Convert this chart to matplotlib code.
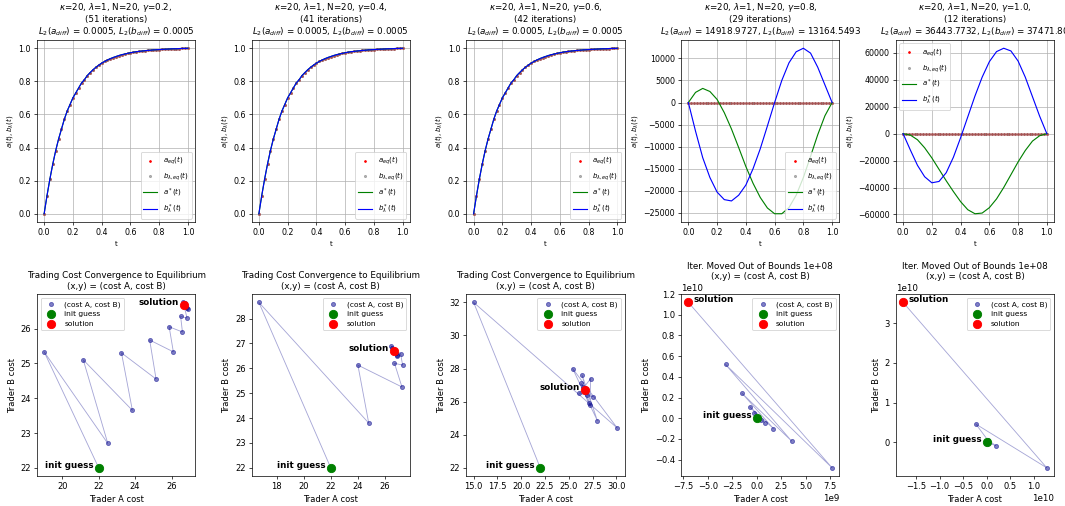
import numpy as np
import matplotlib.pyplot as plt
from matplotlib.ticker import MultipleLocator

# -----------------------------
# top row: a(t), b(t) curves
# -----------------------------
gammas = [0.2, 0.4, 0.6, 0.8, 1.0]
n_iters = [51, 41, 42, 29, 12]
l2_a = ["0.0005", "0.0005", "0.0005", "14918.9727", "36443.7732"]
l2_b = ["0.0005", "0.0005", "0.0005", "13164.5493", "37471.80"]

# equilibrium points (same for every gamma)
t_eq = np.linspace(0, 1, 51)
eq_vals = [0.0, 0.11, 0.21, 0.30, 0.38, 0.45, 0.51, 0.57, 0.62, 0.66,
           0.70, 0.73, 0.76, 0.79, 0.81, 0.835, 0.853, 0.87, 0.885, 0.898,
           0.91, 0.92, 0.929, 0.937, 0.944, 0.95, 0.956, 0.961, 0.965, 0.969,
           0.973, 0.976, 0.979, 0.981, 0.983, 0.985, 0.987, 0.988, 0.99, 0.991,
           0.992, 0.993, 0.994, 0.995, 0.996, 0.997, 0.997, 0.998, 0.999, 0.999, 1.0]

# diverged solutions (gamma 0.8, 1.0)
t_line = np.linspace(0, 1, 21)
a_star_08 = [0, 2300, 3200, 2500, 700, -2300, -6000, -10200, -14500, -18300, -21500,
             -23900, -25200, -25200, -23800, -21000, -17000, -12200, -7300, -3000, 0]
b_star_08 = [0, -6500, -12500, -17000, -20300, -22000, -22300, -21000, -18700, -15000,
             -10500, -5300, 0, 5000, 9000, 11500, 12300, 11200, 8000, 4000, 0]
a_star_10 = [0, -1000, -4500, -10500, -18000, -26500, -35000, -43000, -50500, -56500,
             -59500, -59000, -55000, -48500, -40000, -30500, -21000, -12500, -5500, -1500, 0]
b_star_10 = [0, -12000, -23500, -32000, -36500, -35500, -29000, -17500, -3000, 12500,
             28000, 42000, 53500, 61000, 63500, 61500, 54000, 42000, 27500, 13000, 0]

# -----------------------------
# bottom row: cost iterations
# -----------------------------
cost_a_02 = [22.0, 19.0, 22.5, 21.15, 23.85, 23.25, 25.15, 24.8, 26.1, 25.87, 26.6,
             26.5, 26.85, 26.65, 26.9, 26.75, 26.85, 26.7, 26.8, 26.72, 26.75, 26.7]
cost_b_02 = [22.0, 25.33, 22.7, 25.1, 23.65, 25.3, 24.55, 25.67, 25.33, 26.05, 25.9,
             26.35, 26.3, 26.75, 26.55, 26.72, 26.6, 26.7, 26.62, 26.68, 26.66, 26.68]
cost_a_04 = [22.0, 16.7, 24.8, 24.0, 27.25, 26.7, 27.3, 27.15, 26.45, 26.9, 26.5,
             26.85, 26.6, 26.8, 26.7, 26.75, 26.7]
cost_b_04 = [22.0, 28.65, 23.8, 26.13, 25.25, 26.2, 26.13, 26.58, 26.9, 26.5, 26.8,
             26.55, 26.75, 26.6, 26.7, 26.65, 26.7]
cost_a_06 = [22.0, 15.0, 30.1, 25.4, 28.0, 26.4, 27.2, 27.3, 26.1, 27.5, 26.3,
             27.1, 26.5, 26.9, 26.7, 26.8, 26.65, 26.7]
cost_b_06 = [22.0, 32.0, 24.4, 28.0, 24.85, 27.6, 25.8, 27.4, 26.5, 26.3, 27.1,
             25.9, 26.9, 26.4, 26.8, 26.6, 26.75, 26.7]
cost_a_08 = [0, 0.1e9, 0.4e9, -0.25e9, 0.8e9, -0.7e9, 1.7e9, -1.5e9, 3.55e9, -3.2e9, 7.7e9, -7.0e9]
cost_b_08 = [0, 0.01e10, -0.02e10, 0.05e10, -0.045e10, 0.11e10, -0.1e10, 0.24e10,
             -0.22e10, 0.52e10, -0.48e10, 1.12e10]
cost_a_10 = [0, 0.19e10, 0.02e10, -0.23e10, 1.27e10, -1.77e10]
cost_b_10 = [0, -0.08e10, 0.06e10, 0.46e10, -0.64e10, 3.52e10]

a_stars = [eq_vals, eq_vals, eq_vals, a_star_08, a_star_10]
b_stars = [eq_vals, eq_vals, eq_vals, b_star_08, b_star_10]
cost_as = [cost_a_02, cost_a_04, cost_a_06, cost_a_08, cost_a_10]
cost_bs = [cost_b_02, cost_b_04, cost_b_06, cost_b_08, cost_b_10]
top_leg_loc = ["lower right"] * 4 + ["upper left"]
bot_leg_loc = ["upper left"] + ["upper right"] * 4
x_steps = [2, 2, 2.5, 2.5e9, 0.5e10]

fig, axes = plt.subplots(2, 5, figsize=(1065 / 63, 506 / 63), dpi=63)
fig.subplots_adjust(left=0.0347, right=0.9897, bottom=0.059, top=0.921,
                    wspace=0.358, hspace=0.396)

for i in range(5):
    ax = axes[0, i]
    ax.plot(t_eq, eq_vals, 'r.', markersize=4, label=r'$a_{eq}(t)$')
    ax.plot(t_eq, eq_vals, '.', color='gray', alpha=0.6, markersize=5,
            label=r'$b_{\lambda,eq}(t)$')
    t_s = t_eq if i < 3 else t_line
    ax.plot(t_s, a_stars[i], 'g', lw=1.3, label=r'$a^*(t)$')
    ax.plot(t_s, b_stars[i], 'b', lw=1.3, label=r'$b^*_{\lambda}(t)$')
    ax.set_title(f"$\\kappa$=20, $\\lambda$=1, N=20, $\\gamma$={gammas[i]},\n"
                 f"({n_iters[i]} iterations)\n"
                 f"$L_2(a_{{diff}})$ = {l2_a[i]}, $L_2(b_{{diff}})$ = {l2_b[i]}",
                 fontsize=10)
    ax.set_xlabel("t", fontsize=8)
    ax.set_ylabel(r"$a(t), b_\lambda(t)$", fontsize=8)
    ax.tick_params(labelsize=9)
    ax.grid(True)
    ax.legend(loc=top_leg_loc[i], fontsize=8)

    ax = axes[1, i]
    xs, ys = cost_as[i], cost_bs[i]
    ax.plot(xs, ys, '-', color='darkblue', alpha=0.35, lw=1)
    ax.scatter(xs, ys, s=22, color='darkblue', alpha=0.5, label='(cost A, cost B)')
    ax.scatter(xs[0], ys[0], s=90, color='green', label='init guess', zorder=3)
    ax.scatter(xs[-1], ys[-1], s=90, color='red', label='solution', zorder=3)
    ax.annotate("init guess", (xs[0], ys[0]), xytext=(-6, 3), textcoords='offset points',
                ha='right', va='center', fontsize=10, fontweight='bold')
    if i < 3:
        ax.annotate("solution", (xs[-1], ys[-1]), xytext=(-6, 3), textcoords='offset points',
                    ha='right', va='center', fontsize=10, fontweight='bold')
        ax.set_title("Trading Cost Convergence to Equilibrium\n(x,y) = (cost A, cost B)",
                     fontsize=10)
    else:
        ax.annotate("solution", (xs[-1], ys[-1]), xytext=(6, 3), textcoords='offset points',
                    ha='left', va='center', fontsize=10, fontweight='bold')
        ax.set_title("Iter. Moved Out of Bounds 1e+08\n(x,y) = (cost A, cost B)", fontsize=10)
    ax.xaxis.set_major_locator(MultipleLocator(x_steps[i]))
    ax.set_xlabel("Trader A cost", fontsize=9.5)
    ax.set_ylabel("Trader B cost", fontsize=9.5)
    ax.tick_params(labelsize=9.5)
    ax.legend(loc=bot_leg_loc[i], fontsize=8.5)

plt.savefig("out.png", dpi=63)
